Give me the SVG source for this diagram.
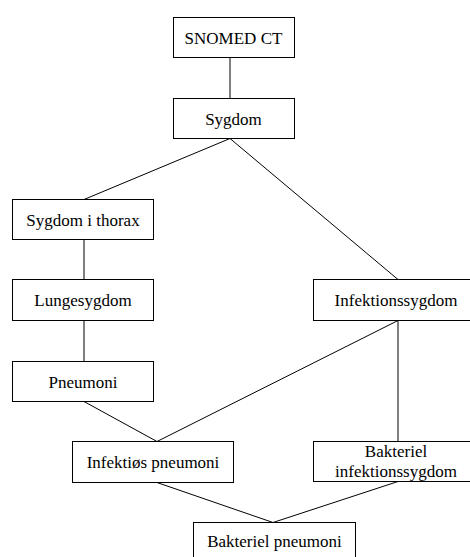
<svg xmlns="http://www.w3.org/2000/svg" width="470" height="557" viewBox="0 0 470 557">
  <style>
    .box { fill: #ffffff; stroke: #000000; stroke-width: 1; }
    .lbl { font-size: 17px; fill: #000000; text-anchor: middle; }
    .edge { stroke: #000000; stroke-width: 1; fill: none; }
  </style>
  <rect x="0" y="0" width="470" height="557" fill="#ffffff"/>

  <g id="connectors">
    <line class="edge" x1="230" y1="57.5" x2="230" y2="98.5"/>
    <line class="edge" x1="230" y1="138.5" x2="84" y2="199.5"/>
    <line class="edge" x1="230" y1="138.5" x2="398" y2="279.5"/>
    <line class="edge" x1="84" y1="239.5" x2="84" y2="279.5"/>
    <line class="edge" x1="84" y1="320.5" x2="84" y2="361.5"/>
    <line class="edge" x1="84" y1="401.5" x2="157" y2="441.5"/>
    <line class="edge" x1="398" y1="320.5" x2="157" y2="441.5"/>
    <line class="edge" x1="398" y1="320.5" x2="398" y2="441.5"/>
    <line class="edge" x1="157" y1="482.5" x2="273" y2="522.5"/>
    <line class="edge" x1="398" y1="481.5" x2="273" y2="522.5"/>
  </g>

  <g font-family="Liberation Serif, Times New Roman, serif">
    <g id="snomed-ct">
      <rect class="box" x="173.5" y="17.5" width="121" height="40"/>
      <text class="lbl" x="233.5" y="43.5">SNOMED CT</text>
    </g>
    <g id="sygdom">
      <rect class="box" x="173.5" y="98.5" width="121" height="40"/>
      <text class="lbl" x="233.5" y="124.5">Sygdom</text>
    </g>
    <g id="sygdom-i-thorax">
      <rect class="box" x="12.5" y="199.5" width="141" height="40"/>
      <text class="lbl" x="83" y="225.5">Sygdom i thorax</text>
    </g>
    <g id="lungesygdom">
      <rect class="box" x="12.5" y="279.5" width="141" height="41"/>
      <text class="lbl" x="83" y="306">Lungesygdom</text>
    </g>
    <g id="pneumoni">
      <rect class="box" x="12.5" y="361.5" width="141" height="40"/>
      <text class="lbl" x="83" y="387.5">Pneumoni</text>
    </g>
    <g id="infektionssygdom">
      <rect class="box" x="313.5" y="279.5" width="170" height="41"/>
      <text class="lbl" x="396" y="306">Infektionssygdom</text>
    </g>
    <g id="infektioes-pneumoni">
      <rect class="box" x="72.5" y="441.5" width="161" height="41"/>
      <text class="lbl" x="153" y="468">Infektiøs pneumoni</text>
    </g>
    <g id="bakteriel-infektionssygdom">
      <rect class="box" x="313.5" y="441.5" width="170" height="40"/>
      <text class="lbl" x="396" y="457">Bakteriel</text>
      <text class="lbl" x="396" y="476.5">infektionssygdom</text>
    </g>
    <g id="bakteriel-pneumoni">
      <rect class="box" x="193.5" y="522.5" width="162" height="40"/>
      <text class="lbl" x="274.5" y="547">Bakteriel pneumoni</text>
    </g>
  </g>
</svg>
